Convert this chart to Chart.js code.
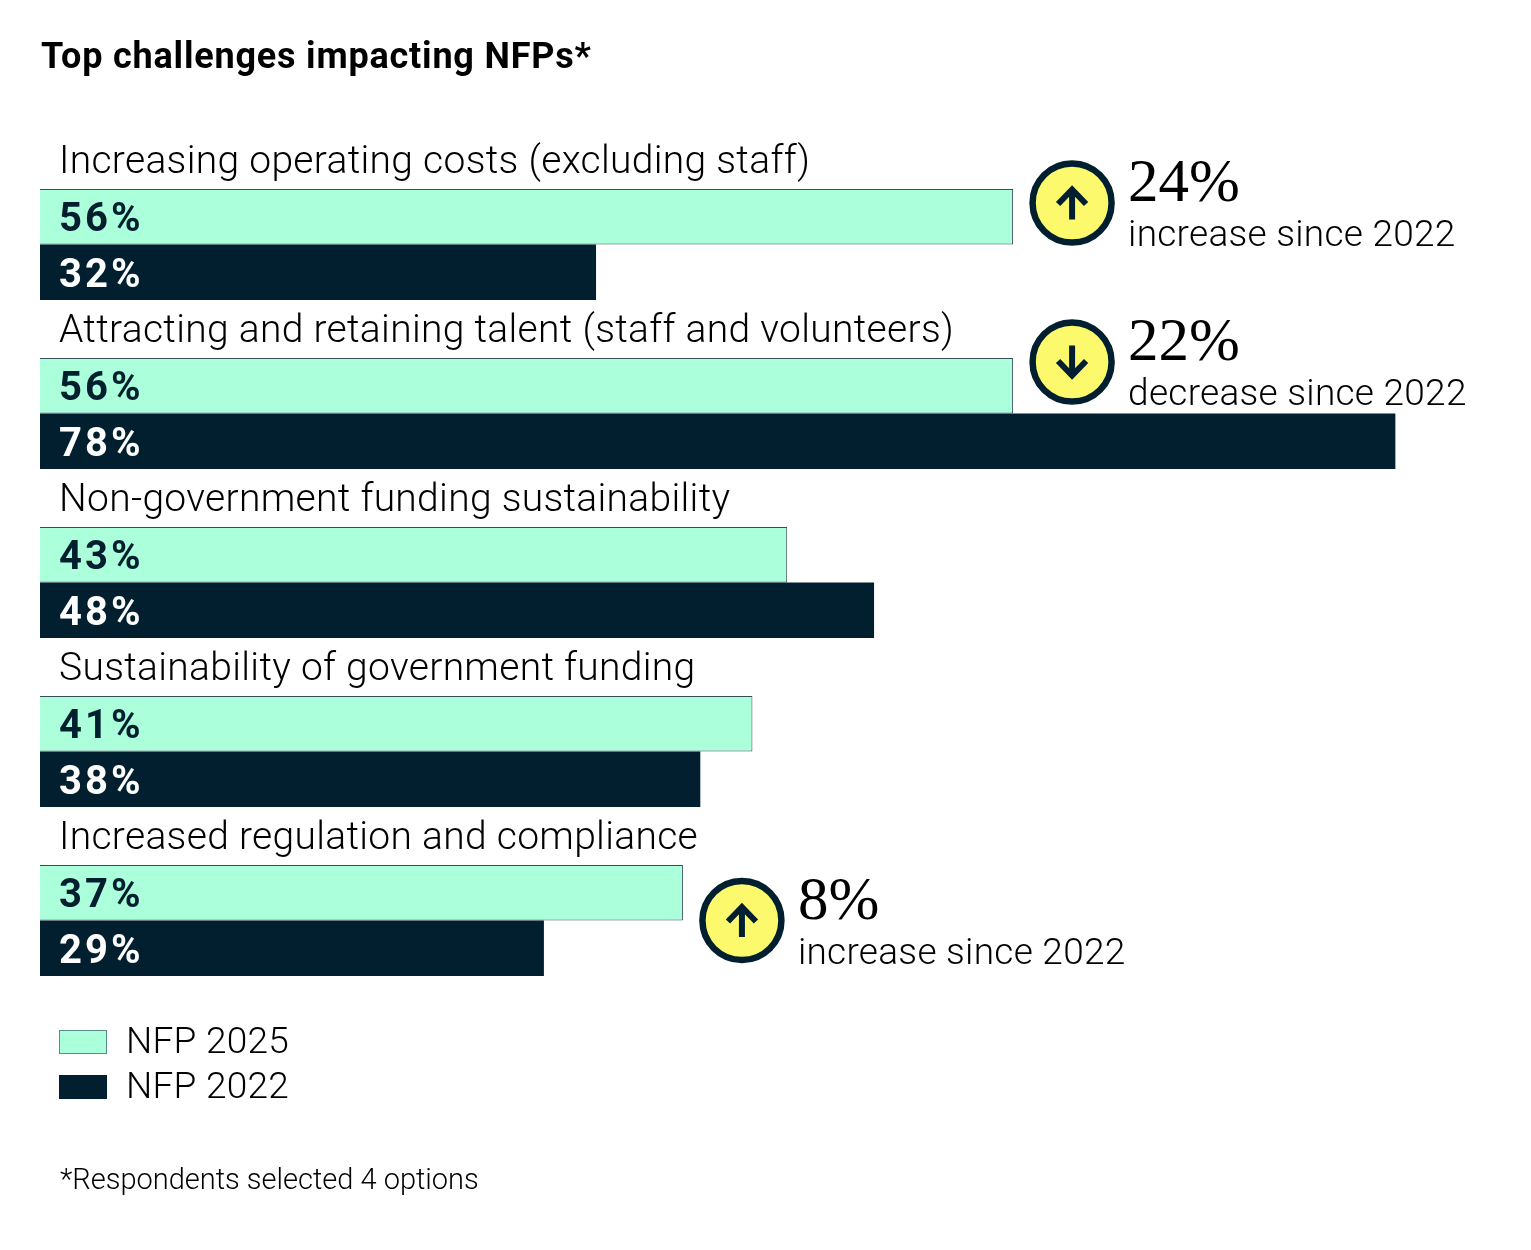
<!DOCTYPE html>
<html>
<head>
<meta charset="utf-8">
<title>Top challenges impacting NFPs</title>
<script src="https://cdn.jsdelivr.net/npm/chart.js@4"></script>
<style>
  html, body { margin: 0; padding: 0; background: #fff; }
  canvas { display: block; }
</style>
</head>
<body>
<canvas id="myChart" width="1531" height="1250"></canvas>
<script>
const categories = [
  'Increasing operating costs (excluding staff)',
  'Attracting and retaining talent (staff and volunteers)',
  'Non-government funding sustainability',
  'Sustainability of government funding',
  'Increased regulation and compliance'
];
const nfp2025 = [56, 56, 43, 41, 37];
const nfp2022 = [32, 78, 48, 38, 29];
const changes = [24, -22, null, null, 8]; // only the flagged ones get a badge

const titleText = 'Top challenges impacting NFPs*';
const footnote = '*Respondents selected 4 options';

const MINT = '#abffdb';
const NAVY = '#021f2f';
const YELLOW = '#fdf96c';
const SANS = 'Roboto, sans-serif';
const SERIF = '"Liberation Serif", serif';

// badge height relative to the middle of its group
const badgeShift = [-41.5, -51.5, 0, 0, 0];

function drawBadge(ctx, x, y, up) {
  ctx.beginPath();
  ctx.arc(x, y, 39.5, 0, Math.PI * 2);
  ctx.fillStyle = YELLOW;
  ctx.fill();
  ctx.lineWidth = 6.5;
  ctx.strokeStyle = NAVY;
  ctx.stroke();

  const d = up ? 1 : -1;
  ctx.beginPath();
  ctx.moveTo(x, y + 16.5 * d);
  ctx.lineTo(x, y - 13 * d);
  ctx.moveTo(x - 14, y + 1 * d);
  ctx.lineTo(x, y - 13.5 * d);
  ctx.lineTo(x + 14, y + 1 * d);
  ctx.lineWidth = 6;
  ctx.lineCap = 'butt';
  ctx.stroke();
}

function text(ctx, str, x, y, font, color, spacing) {
  ctx.font = font;
  ctx.fillStyle = color;
  ctx.letterSpacing = (spacing || 0) + 'px';
  ctx.fillText(str, x, y);
}

const annotations = {
  id: 'annotations',
  afterDatasetsDraw(chart) {
    const ctx = chart.ctx;
    const mint = chart.getDatasetMeta(0).data;
    const navy = chart.getDatasetMeta(1).data;
    ctx.save();
    ctx.textBaseline = 'alphabetic';
    ctx.textAlign = 'left';

    text(ctx, titleText, 41, 68, '700 36px ' + SANS, '#000', 0.8);

    categories.forEach((name, i) => {
      const topY = mint[i].y - mint[i].height / 2;
      text(ctx, name, 59, topY - 16, '300 39px ' + SANS, '#000', 0.3);

      text(ctx, nfp2025[i] + '%', 59, mint[i].y + 14.5, '700 40px ' + SANS, NAVY, 3);
      text(ctx, nfp2022[i] + '%', 59, navy[i].y + 14.5, '700 40px ' + SANS, '#fff', 3);

      if (changes[i] === null) return;
      const cx = mint[i].x + 59;
      const cy = mint[i].y + mint[i].height / 2 + badgeShift[i];
      drawBadge(ctx, cx, cy, changes[i] > 0);
      text(ctx, Math.abs(changes[i]) + '%', cx + 56, cy - 2, '400 61px ' + SERIF, '#000');
      text(ctx, (changes[i] > 0 ? 'increase' : 'decrease') + ' since 2022', cx + 56, cy + 43, '300 37px ' + SANS, '#000', 0.27);
    });

    chart.data.datasets.forEach((ds, i) => {
      const y = 1030 + i * 45;
      ctx.fillStyle = ds.backgroundColor;
      ctx.fillRect(59, y, 48, 24);
      ctx.strokeStyle = 'rgba(2,31,47,0.5)';
      ctx.lineWidth = 1;
      ctx.strokeRect(59.5, y + 0.5, 47, 23);
      text(ctx, ds.label, 126, y + 23, '300 37px ' + SANS, '#000', 0.25);
    });

    text(ctx, footnote, 60, 1189, '300 29px ' + SANS, '#000');
    ctx.restore();
  }
};

new Chart(document.getElementById('myChart').getContext('2d'), {
  type: 'bar',
  data: {
    labels: categories,
    datasets: [
      { label: 'NFP 2025', data: nfp2025, backgroundColor: MINT, borderColor: 'rgba(2,31,47,0.8)', borderWidth: 1 },
      { label: 'NFP 2022', data: nfp2022, backgroundColor: NAVY, borderWidth: 0 }
    ]
  },
  options: {
    indexAxis: 'y',
    responsive: false,
    animation: false,
    layout: { padding: { left: 40, right: 14, top: 160, bottom: 245 } },
    datasets: { bar: { categoryPercentage: 0.656, barPercentage: 1 } },
    scales: {
      x: { display: false, min: 0, max: 85 },
      y: { display: false }
    },
    plugins: { legend: { display: false }, title: { display: false }, tooltip: { enabled: false } }
  },
  plugins: [annotations]
});
</script>
</body>
</html>
